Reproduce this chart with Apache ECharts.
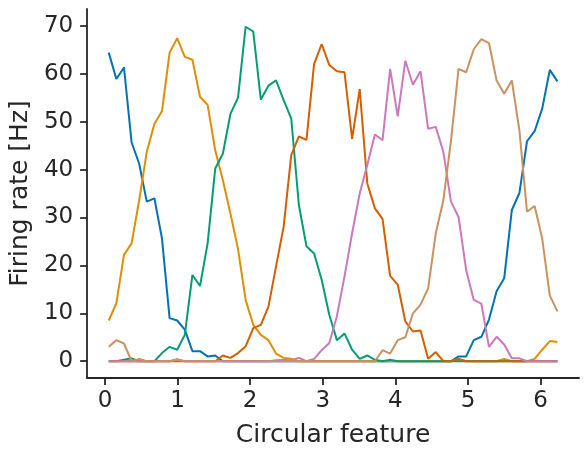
<!DOCTYPE html>
<html>
<head>
<meta charset="utf-8">
<script src="https://cdn.jsdelivr.net/npm/echarts@6/dist/echarts.min.js"></script>
<style>
  html, body { margin: 0; padding: 0; background: #fff; }
  #chart { width: 587px; height: 455px; }
</style>
</head>
<body>
<div id="chart"></div>
<script>
// 60 bins over the circle
const nBins = 60;
const binCenters = Array.from({ length: nBins }, (_, i) => (i + 0.5) * 2 * Math.PI / nBins);

const xTicks = [0, 1, 2, 3, 4, 5, 6];
const yTicks = [0, 10, 20, 30, 40, 50, 60, 70];

const blue = [64.4, 58.9, 61.3, 45.7, 41.2, 33.3, 34.0, 25.6, 9.0, 8.5,
  6.6, 2.1, 2.1, 1.0, 1.2, 0, 0, 0, 0, 0,
  0, 0, 0, 0, 0, 0, 0, 0, 0, 0,
  0, 0, 0, 0, 0, 0, 0, 0, 0, 0,
  0, 0, 0, 0, 0, 0, 1.0, 1.0, 4.4, 5.1,
  8.7, 14.6, 17.3, 31.5, 35.1, 45.9, 48.0, 52.7, 60.8, 58.4];

const orange = [8.5, 12.1, 22.2, 24.6, 33.6, 43.7, 49.5, 52.2, 64.4, 67.4,
  63.5, 62.9, 55.2, 53.5, 44.0, 37.8, 30.8, 23.4, 12.8, 7.6,
  5.5, 4.4, 1.6, 0.7, 0.5, 0, 0, 0, 0, 0,
  0, 0, 0, 0, 0, 0, 0, 0, 0, 0,
  0, 0, 0, 0, 0, 0, 0.4, 0, 0, 0,
  0, 0, 0.5, 0, 0, 0, 0.5, 2.4, 4.2, 4.0];

const green = [0, 0, 0.3, 0.6, 0, 0, 0, 1.7, 3.0, 2.4,
  5.5, 18.0, 15.7, 24.6, 40.2, 43.3, 51.6, 55.0, 69.8, 68.8,
  54.6, 57.5, 58.6, 54.5, 50.6, 32.6, 24.0, 22.5, 17.0, 9.7,
  4.4, 5.8, 2.4, 0.5, 1.2, 0.3, 0, 0.3, 0, 0,
  0, 0, 0, 0, 0, 0, 0, 0, 0, 0,
  0, 0, 0, 0, 0, 0, 0, 0, 0, 0];

const red = [0, 0, 0, 0, 0, 0, 0, 0, 0, 0,
  0, 0, 0, 0, 0, 1.2, 0.7, 1.7, 3.1, 6.9,
  7.6, 11.4, 19.8, 28.1, 43.0, 46.9, 46.2, 62.0, 66.2, 61.8,
  60.5, 60.3, 46.4, 56.8, 37.1, 31.9, 29.7, 17.8, 16.0, 8.3,
  6.2, 6.4, 0.5, 1.9, 0, 0, 0.5, 0, 0, 0,
  0, 0, 0, 0, 0, 0, 0, 0, 0, 0];

const purple = [0, 0, 0, 0, 0, 0, 0, 0, 0, 0.4,
  0, 0, 0, 0, 0, 0, 0, 0, 0, 0,
  0, 0, 0.2, 0.3, 0.2, 0.7, 0, 0.5, 2.3, 3.8,
  9.4, 17.7, 26.7, 35.0, 41.0, 47.3, 46.1, 61.0, 51.1, 62.7,
  57.7, 60.5, 48.5, 48.9, 43.7, 33.3, 30.1, 19.0, 12.8, 12.0,
  3.0, 5.1, 3.5, 0.6, 0.6, 0, 0, 0, 0, 0];

const brown = [3.0, 4.4, 3.7, 0, 0.5, 0, 0, 0, 0, 0.3,
  0, 0, 0, 0, 0, 0, 0, 0, 0, 0,
  0, 0, 0, 0, 0, 0, 0, 0, 0, 0,
  0, 0, 0, 0, 0, 0, 2.3, 1.6, 4.4, 5.0,
  10.0, 11.8, 15.2, 26.7, 33.6, 46.0, 61.0, 60.3, 65.1, 67.2,
  66.4, 58.6, 55.8, 58.6, 48.2, 31.2, 32.4, 25.6, 13.7, 10.4];

const seriesData = [blue, orange, green, red, purple, brown];
const colors = ['#0173b2', '#de8f05', '#029e73', '#d55e00', '#cc78bc', '#ca9161'];

const textColor = '#262626';
const font = 'DejaVu Sans';

const chart = echarts.init(document.getElementById('chart'));

const option = {
  backgroundColor: '#ffffff',
  animation: false,
  grid: { left: 82, right: 8, top: 9, bottom: 77, containLabel: false },
  xAxis: {
    type: 'value',
    min: -0.245,
    max: 6.528,
    name: 'Circular feature',
    nameLocation: 'middle',
    nameGap: 45,
    nameTextStyle: { color: textColor, fontSize: 25, fontFamily: font },
    axisLine: { show: true, onZero: false, lineStyle: { color: textColor, width: 1.8 } },
    axisTick: { show: true, length: 7, lineStyle: { color: textColor, width: 1.8 }, customValues: xTicks },
    axisLabel: { color: textColor, fontSize: 23, fontFamily: font, margin: 12, customValues: xTicks },
    splitLine: { show: false }
  },
  yAxis: {
    type: 'value',
    min: -3.5,
    max: 73.5,
    name: 'Firing rate [Hz]',
    nameLocation: 'middle',
    nameGap: 52,
    nameTextStyle: { color: textColor, fontSize: 25, fontFamily: font },
    axisLine: { show: true, onZero: false, lineStyle: { color: textColor, width: 1.8 } },
    axisTick: { show: true, length: 7, lineStyle: { color: textColor, width: 1.8 }, customValues: yTicks },
    axisLabel: { color: textColor, fontSize: 23, fontFamily: font, margin: 14, customValues: yTicks },
    splitLine: { show: false }
  },
  series: seriesData.map((vals, s) => ({
    type: 'line',
    data: vals.map((v, i) => [binCenters[i], v]),
    showSymbol: false,
    lineStyle: { color: colors[s], width: 2 },
    itemStyle: { color: colors[s] },
    z: 2 + s
  }))
};

chart.setOption(option);
</script>
</body>
</html>
